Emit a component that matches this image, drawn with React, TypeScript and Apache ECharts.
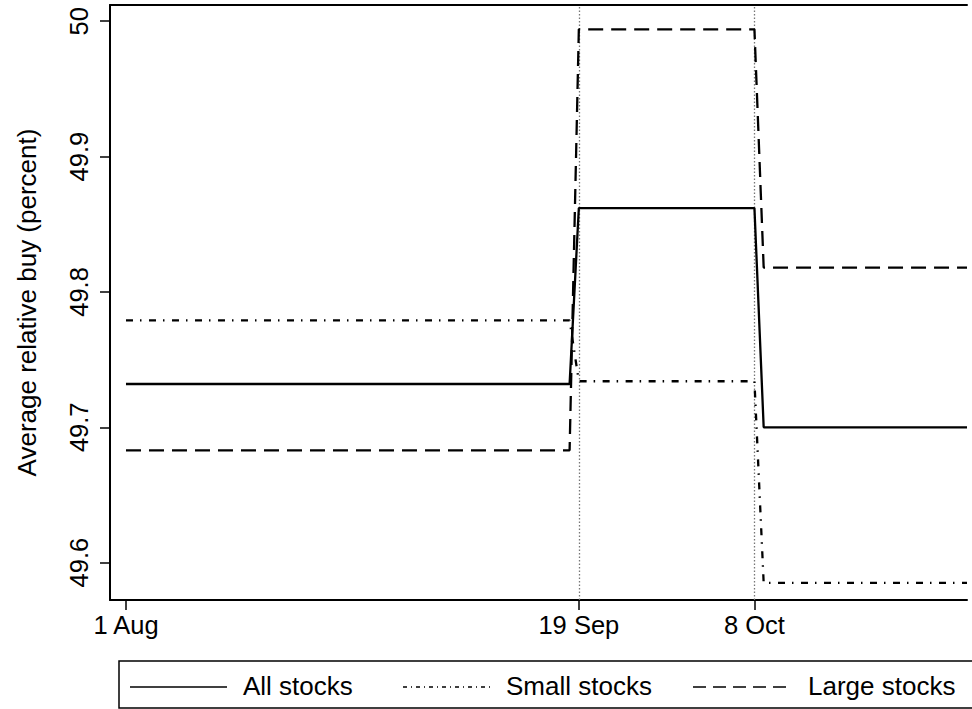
import React, { useEffect, useRef } from "react";
import * as echarts from "echarts";

// ---- data ----
const START = "2008-08-01";
const dates = ["2008-08-01", "2008-09-18", "2008-09-19", "2008-10-08", "2008-10-09", "2008-10-31"];
const allStocks = [49.732, 49.732, 49.862, 49.862, 49.7, 49.7];
const smallStocks = [49.779, 49.779, 49.734, 49.734, 49.585, 49.585];
const largeStocks = [49.683, 49.683, 49.994, 49.994, 49.818, 49.818];
const seriesNames = ["All stocks", "Small stocks", "Large stocks"];
const xTickDates = ["2008-08-01", "2008-09-19", "2008-10-08"];
const xTickLabels = ["1 Aug", "19 Sep", "8 Oct"];
const refLineDates = ["2008-09-19", "2008-10-08"];
const yTicks = [49.6, 49.7, 49.8, 49.9, 50];
const yTickLabels = ["49.6", "49.7", "49.8", "49.9", "50"];
const yTitle = "Average relative buy (percent)";

const dayOf = (d: string) =>
  (Date.parse(d + "T00:00:00Z") - Date.parse(START + "T00:00:00Z")) / 86400000;

const FONT = "'Liberation Sans', Arial, Helvetica, sans-serif";
const DASHDOT = [7, 7, 1.5, 7.5];
const DASH = [15, 8];

export default function App() {
  const ref = useRef<HTMLDivElement>(null);
  useEffect(() => {
    document.body.style.margin = "0";
    const chart = echarts.init(ref.current!, undefined, { renderer: "svg" });
    const xTicks = xTickDates.map(dayOf);
    const mk = (vals: number[]) => dates.map((d, i) => [dayOf(d), vals[i]]);
    const lineY = 687;
    const option: any = {
      animation: false,
      backgroundColor: "#fff",
      textStyle: { fontFamily: FONT },
      grid: { left: 110, top: 5, right: 5, bottom: 109 },
      xAxis: [
        {
          type: "value",
          min: -1.73,
          max: dayOf("2008-10-31"),
          axisLine: { show: true, onZero: false, lineStyle: { color: "#000", width: 2 } },
          axisTick: { show: true, length: 10, customValues: xTicks, lineStyle: { color: "#000", width: 1.5 } },
          axisLabel: {
            customValues: xTicks,
            margin: 12,
            fontSize: 25.5,
            color: "#000",
            fontFamily: FONT,
            formatter: (v: number) => {
              const i = xTicks.findIndex((t) => Math.abs(t - v) < 1e-6);
              return i >= 0 ? xTickLabels[i] : "";
            },
          },
          splitLine: { show: false },
        },
        {
          type: "value",
          position: "top",
          min: -1.73,
          max: dayOf("2008-10-31"),
          axisLine: { show: true, onZero: false, lineStyle: { color: "#000", width: 2 } },
          axisTick: { show: false },
          axisLabel: { show: false },
          splitLine: { show: false },
        },
      ],
      yAxis: {
        type: "value",
        min: 49.5724,
        max: 50.012,
        axisLine: { show: true, onZero: false, lineStyle: { color: "#000", width: 2 } },
        axisTick: { show: true, length: 10, customValues: yTicks, lineStyle: { color: "#000", width: 1.5 } },
        axisLabel: {
          customValues: yTicks,
          rotate: 90,
          margin: 18,
          fontSize: 25.5,
          color: "#000",
          fontFamily: FONT,
          formatter: (v: number) => {
            const i = yTicks.findIndex((t) => Math.abs(t - v) < 1e-6);
            return i >= 0 ? yTickLabels[i] : "";
          },
        },
        splitLine: { show: false },
        name: yTitle,
        nameLocation: "middle",
        nameGap: 70,
        nameTextStyle: { fontSize: 26, color: "#000", fontFamily: FONT },
      },
      series: [
        {
          name: seriesNames[0],
          type: "line",
          symbol: "none",
          data: mk(allStocks),
          lineStyle: { color: "#000", width: 2.3, type: "solid" },
          z: 3,
          markLine: {
            silent: true,
            symbol: ["none", "none"],
            label: { show: false },
            lineStyle: { color: "#777", width: 1.3, type: [1.5, 2] },
            data: refLineDates.map((d) => ({ xAxis: dayOf(d) })),
            z: 1,
          },
        },
        {
          name: seriesNames[1],
          type: "line",
          symbol: "none",
          data: mk(smallStocks),
          lineStyle: { color: "#000", width: 2.3, type: DASHDOT },
          z: 3,
        },
        {
          name: seriesNames[2],
          type: "line",
          symbol: "none",
          data: mk(largeStocks),
          lineStyle: { color: "#000", width: 2.3, type: DASH },
          z: 3,
        },
      ],
      graphic: [
        {
          type: "rect",
          shape: { x: 119, y: 661, width: 870, height: 47 },
          style: { fill: "#fff", stroke: "#000", lineWidth: 1.5 },
          silent: true,
        },
        { type: "line", shape: { x1: 130, y1: lineY, x2: 227, y2: lineY }, style: { stroke: "#000", lineWidth: 1.6 } },
        { type: "text", x: 243, y: 686, style: { text: seriesNames[0], font: `26px ${FONT}`, fill: "#000", verticalAlign: "middle" } },
        { type: "line", shape: { x1: 403, y1: lineY, x2: 490, y2: lineY }, style: { stroke: "#000", lineWidth: 1.3, lineDash: [4, 4, 1, 4] } },
        { type: "text", x: 506, y: 686, style: { text: seriesNames[1], font: `26px ${FONT}`, fill: "#000", verticalAlign: "middle" } },
        { type: "line", shape: { x1: 693, y1: lineY, x2: 790, y2: lineY }, style: { stroke: "#000", lineWidth: 1.6, lineDash: [13, 7] } },
        { type: "text", x: 808, y: 686, style: { text: seriesNames[2], font: `26px ${FONT}`, fill: "#000", verticalAlign: "middle" } },
      ],
    };
    chart.setOption(option);
    return () => chart.dispose();
  }, []);
  return <div ref={ref} style={{ width: 972, height: 709 }} />;
}
